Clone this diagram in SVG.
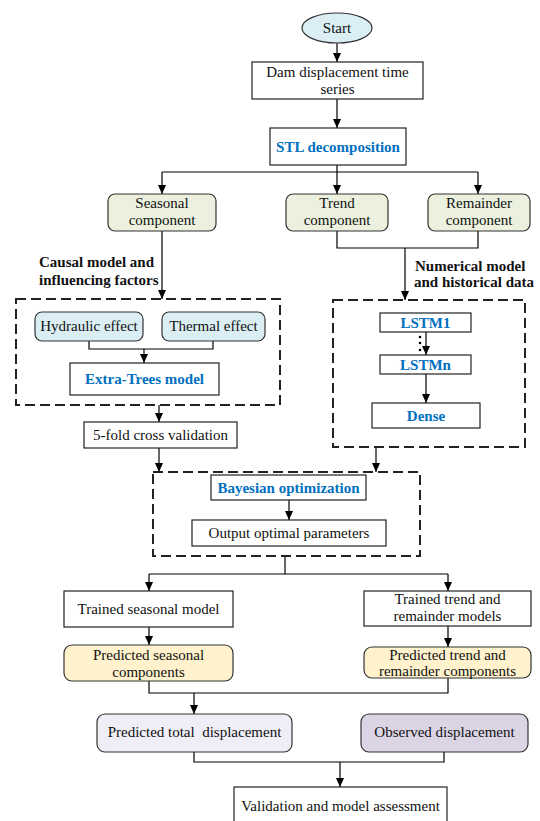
<svg xmlns="http://www.w3.org/2000/svg" width="540" height="821" viewBox="0 0 540 821">
<defs>
<marker id="arr" markerUnits="userSpaceOnUse" markerWidth="10" markerHeight="8" refX="9" refY="4" orient="auto">
<path d="M0,0 L9,4 L0,8 z" fill="#000"/>
</marker>
<style>
text{font-family:"Liberation Serif","Times New Roman",serif;font-size:15px;fill:#111;text-anchor:middle}
.b{font-weight:bold}
.blue{fill:#0070c0;font-weight:bold}
.lbl{font-weight:bold;text-anchor:start}
.box{fill:#fff;stroke:#222;stroke-width:1.2}
.dash{fill:none;stroke:#222;stroke-width:2;stroke-dasharray:10,5}
.green{fill:#ebf1de;stroke:#333;stroke-width:1.2}
.lblue{fill:#daeef3;stroke:#333;stroke-width:1.2}
.yel{fill:#fff2cc;stroke:#333;stroke-width:1.2}
.lav{fill:#efedf5;stroke:#333;stroke-width:1.2}
.lav2{fill:#dbd4e4;stroke:#333;stroke-width:1.2}
.c{fill:none;stroke:#000;stroke-width:1.2}
.ca{fill:none;stroke:#000;stroke-width:1.2;marker-end:url(#arr)}
</style>
</defs>
<rect width="540" height="821" fill="#fff"/>

<g id="connectors">
<path class="ca" d="M337,43 V62"/>
<path class="ca" d="M337,99 V128"/>
<path class="ca" d="M337,165 V194"/>
<path class="c" d="M162,172 H478"/>
<path class="ca" d="M162,172 V194"/>
<path class="ca" d="M478,172 V194"/>
<path class="ca" d="M162,231 V299"/>
<path class="c" d="M337,231 V248 H478 V231"/>
<path class="ca" d="M405,248 V300"/>
<path class="c" d="M89,341 V349 H213 V341"/>
<path class="ca" d="M144,349 V363"/>
<path class="ca" d="M159,405 V422"/>
<path class="ca" d="M159,448 V472"/>
<path class="ca" d="M426,332 V355"/>
<path class="ca" d="M426,374 V403"/>
<path class="ca" d="M376,447 V472"/>
<path class="ca" d="M289,500 V520"/>
<path class="c" d="M285,556 V574"/>
<path class="c" d="M149,574 H448"/>
<path class="ca" d="M149,574 V591"/>
<path class="ca" d="M448,574 V591"/>
<path class="ca" d="M149,627 V645"/>
<path class="ca" d="M448,626 V647"/>
<path class="c" d="M149,681 V693 H448 V678"/>
<path class="ca" d="M194,693 V714"/>
<path class="c" d="M194,752 V762 H444 V752"/>
<path class="ca" d="M340,762 V787"/>
<circle cx="420" cy="337" r="1.3" fill="#000"/>
<circle cx="420" cy="343" r="1.3" fill="#000"/>
<circle cx="420" cy="350" r="1.3" fill="#000"/>
</g>

<g id="start"><ellipse cx="337" cy="28" rx="35" ry="15" class="lblue"/><text x="337" y="33">Start</text></g>
<g id="dam"><rect x="252" y="62" width="171" height="37" class="box"/><text x="337.5" y="77">Dam displacement time</text><text x="337.5" y="94">series</text></g>
<g id="stl"><rect x="270" y="128" width="136" height="37" class="box"/><text x="338" y="152" class="blue">STL decomposition</text></g>

<g id="seasonal"><rect x="108" y="194" width="108" height="37" rx="7" class="green"/><text x="162" y="208">Seasonal</text><text x="162" y="225">component</text></g>
<g id="trend"><rect x="286" y="194" width="102" height="37" rx="7" class="green"/><text x="337" y="208">Trend</text><text x="337" y="225">component</text></g>
<g id="remainder"><rect x="428" y="194" width="102" height="37" rx="7" class="green"/><text x="479" y="208">Remainder</text><text x="479" y="225">component</text></g>

<g id="label-causal"><text x="39" y="267" class="lbl">Causal model and</text><text x="39" y="285" class="lbl">influencing factors</text></g>
<g id="label-numerical"><text x="415" y="271" class="lbl">Numerical model</text><text x="414" y="287" class="lbl">and historical data</text></g>

<g id="group-left"><rect x="16" y="299" width="264" height="106" class="dash"/></g>
<g id="hydraulic"><rect x="35" y="312" width="108" height="29" rx="7" class="lblue"/><text x="89" y="331">Hydraulic effect</text></g>
<g id="thermal"><rect x="162" y="312" width="103" height="29" rx="7" class="lblue"/><text x="213.5" y="331">Thermal effect</text></g>
<g id="extratrees"><rect x="70" y="363" width="149" height="32" class="box"/><text x="144.5" y="384" class="blue">Extra-Trees model</text></g>
<g id="fivefold"><rect x="84" y="422" width="153" height="26" class="box"/><text x="160.5" y="440">5-fold cross validation</text></g>

<g id="group-right"><rect x="333" y="300" width="192" height="147" class="dash"/></g>
<g id="lstm1"><rect x="380" y="313" width="91" height="19" class="box"/><text x="425.5" y="327.5" class="blue">LSTM1</text></g>
<g id="lstmn"><rect x="380" y="355" width="91" height="19" class="box"/><text x="425.5" y="369.5" class="blue">LSTMn</text></g>
<g id="dense"><rect x="372" y="403" width="108" height="25" class="box"/><text x="426" y="421" class="blue">Dense</text></g>

<g id="group-bayes"><rect x="153" y="472" width="267" height="84" class="dash"/></g>
<g id="bayes"><rect x="211" y="475" width="155" height="25" class="box"/><text x="288.5" y="492.5" class="blue">Bayesian optimization</text></g>
<g id="output"><rect x="192" y="520" width="194" height="26" class="box"/><text x="289" y="538">Output optimal parameters</text></g>

<g id="trained-seasonal"><rect x="64" y="591" width="169" height="36" class="box"/><text x="148.5" y="614">Trained seasonal model</text></g>
<g id="trained-trend"><rect x="364" y="591" width="167" height="35" class="box"/><text x="447.5" y="604">Trained trend and</text><text x="447.5" y="621">remainder models</text></g>
<g id="pred-seasonal"><rect x="64" y="645" width="169" height="36" rx="8" class="yel"/><text x="148.5" y="660">Predicted seasonal</text><text x="148.5" y="677">components</text></g>
<g id="pred-trend"><rect x="364" y="647" width="167" height="31" rx="8" class="yel"/><text x="447.5" y="660">Predicted trend and</text><text x="447.5" y="676">remainder components</text></g>

<g id="pred-total"><rect x="97" y="714" width="195" height="38" rx="8" class="lav"/><text x="194.5" y="737" xml:space="preserve">Predicted total  displacement</text></g>
<g id="observed"><rect x="361" y="714" width="167" height="38" rx="8" class="lav2"/><text x="444.5" y="737">Observed displacement</text></g>
<g id="validation"><rect x="234" y="787" width="213" height="45" class="box"/><text x="340.5" y="811">Validation and model assessment</text></g>
</svg>
